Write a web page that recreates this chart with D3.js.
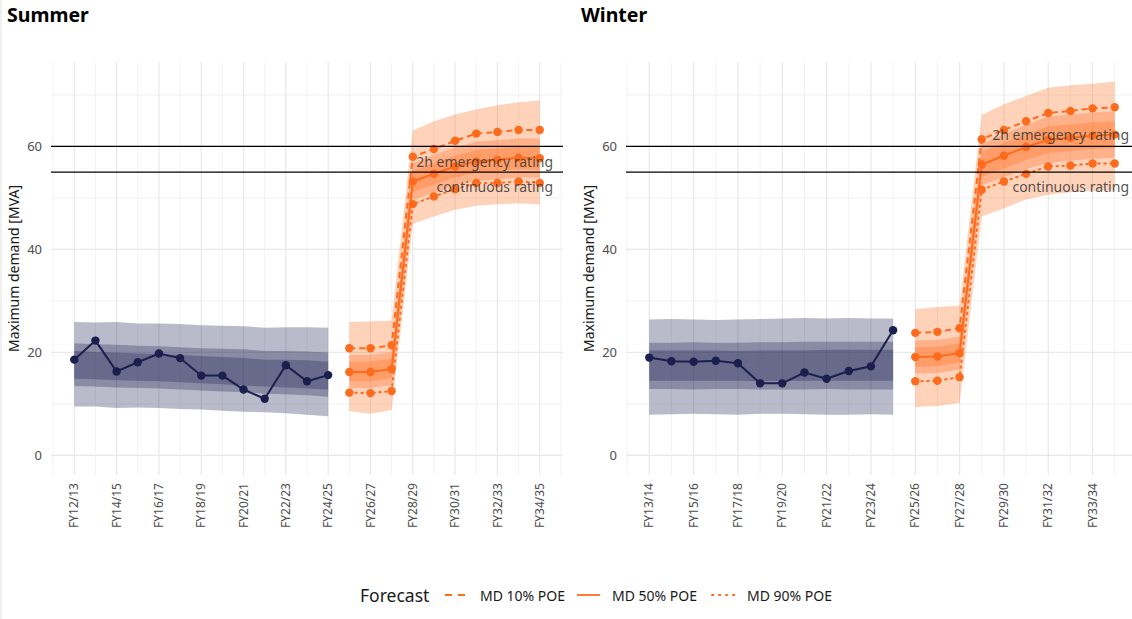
<!DOCTYPE html>
<html><head><meta charset="utf-8">
<script src="https://cdn.jsdelivr.net/npm/d3@7"></script>
<style>
body{margin:0;background:#fff}
text{font-family:"Noto Sans",Lato,sans-serif}
</style>
</head><body>
<svg id="chart" width="1132" height="619"></svg>
<script>
// ---------- DATA ----------
const summerYears = ["FY12/13","FY13/14","FY14/15","FY15/16","FY16/17","FY17/18","FY18/19","FY19/20","FY20/21","FY21/22","FY22/23","FY23/24","FY24/25","FY25/26","FY26/27","FY27/28","FY28/29","FY29/30","FY30/31","FY31/32","FY32/33","FY33/34","FY34/35"];
const winterYears = ["FY13/14","FY14/15","FY15/16","FY16/17","FY17/18","FY18/19","FY19/20","FY20/21","FY21/22","FY22/23","FY23/24","FY24/25","FY25/26","FY26/27","FY27/28","FY28/29","FY29/30","FY30/31","FY31/32","FY32/33","FY33/34","FY34/35"];
const summerTickLabels = ["FY12/13","FY14/15","FY16/17","FY18/19","FY20/21","FY22/23","FY24/25","FY26/27","FY28/29","FY30/31","FY32/33","FY34/35"];
const winterTickLabels = ["FY13/14","FY15/16","FY17/18","FY19/20","FY21/22","FY23/24","FY25/26","FY27/28","FY29/30","FY31/32","FY33/34"];
const yTicks = [0, 20, 40, 60];
const yMinor = [10, 30, 50, 70];

// Summer historical (FY12/13 .. FY24/25)
const summerActual   = [18.6,22.3,16.3,18.1,19.8,18.9,15.5,15.5,12.8,11.0,17.5,14.4,15.6];
const summerHistOutHi = [25.9,25.8,25.9,25.6,25.6,25.5,25.3,25.2,25.1,24.8,24.9,24.9,24.8];
const summerHistOutLo = [9.5,9.5,9.2,9.3,9.2,9.0,8.9,8.7,8.5,8.4,8.2,7.9,7.6];
const summerHistMidHi = [21.8,21.6,21.5,21.3,21.2,21.0,20.8,20.7,20.6,20.3,20.3,20.2,20.0];
const summerHistMidLo = [13.5,13.4,13.2,13.1,13.0,12.8,12.6,12.4,12.3,12.0,11.9,11.7,11.4];
const summerHistInHi  = [20.3,20.1,20.0,19.8,19.7,19.5,19.3,19.1,18.9,18.6,18.6,18.5,18.2];
const summerHistInLo  = [14.9,14.8,14.6,14.5,14.4,14.2,14.0,13.8,13.6,13.4,13.2,13.0,12.8];
// Summer forecast (FY25/26 .. FY34/35)
const summerP10 = [20.8,20.8,21.4,58.0,59.5,61.1,62.5,62.8,63.2,63.2];
const summerP50 = [16.2,16.2,16.8,53.2,54.7,56.1,57.1,57.4,57.8,57.7];
const summerP90 = [12.2,12.1,12.5,48.8,50.3,51.7,52.9,52.9,53.2,52.9];
const summerFcOutHi = [25.9,26.0,26.2,63.1,64.9,66.2,67.2,68.0,68.6,68.9];
const summerFcOutLo = [8.6,8.1,8.8,45.0,46.4,47.7,48.5,48.8,48.9,48.8];
const summerFcMidHi = [19.5,19.5,20.1,56.8,58.4,59.8,60.9,61.2,61.6,61.5];
const summerFcMidLo = [13.1,13.1,13.7,49.6,51.0,52.4,53.3,53.6,54.0,53.9];
const summerFcInHi  = [18.2,18.2,18.8,55.3,56.8,58.2,59.3,59.6,60.0,59.9];
const summerFcInLo  = [14.4,14.4,15.0,51.1,52.6,54.0,54.9,55.2,55.6,55.5];

// Winter historical (FY13/14 .. FY24/25)
const winterActual   = [19.0,18.3,18.2,18.4,17.9,14.0,14.0,16.1,14.9,16.4,17.3,24.3];
const winterHistOutHi = [26.4,26.5,26.4,26.3,26.4,26.5,26.6,26.7,26.6,26.7,26.6,26.6];
const winterHistOutLo = [7.9,8.0,8.1,8.0,7.9,8.1,8.1,8.0,7.9,7.9,8.0,7.9];
const winterHistMidHi = [21.9,21.9,22.0,21.9,21.9,22.0,22.0,22.1,22.1,22.1,22.1,22.1];
const winterHistMidLo = [12.9,12.9,12.8,12.9,12.9,12.8,12.8,12.8,12.9,12.8,12.8,12.8];
const winterHistInHi  = [20.4,20.4,20.4,20.4,20.3,20.4,20.4,20.4,20.5,20.5,20.5,20.5];
const winterHistInLo  = [14.5,14.5,14.5,14.5,14.5,14.4,14.5,14.5,14.5,14.5,14.5,14.5];
// Winter forecast (FY25/26 .. FY34/35)
const winterP10 = [23.8,24.0,24.7,61.4,63.2,64.9,66.5,66.9,67.4,67.6];
const winterP50 = [19.1,19.2,19.9,56.5,58.2,59.9,61.3,61.7,62.1,62.3];
const winterP90 = [14.4,14.5,15.2,51.6,53.2,54.7,56.1,56.3,56.7,56.7];
const winterFcOutHi = [28.4,28.8,29.1,66.1,68.2,69.8,71.4,71.9,72.2,72.6];
const winterFcOutLo = [9.4,9.6,10.2,46.4,48.0,49.7,50.6,51.1,51.4,51.5];
const winterFcMidHi = [22.3,22.4,23.1,60.5,62.4,64.2,65.8,66.2,66.6,66.8];
const winterFcMidLo = [15.9,16.0,16.7,52.5,54.0,55.6,56.8,57.2,57.6,57.8];
const winterFcInHi  = [21.0,21.1,21.8,58.9,60.7,62.4,63.9,64.3,64.7,64.9];
const winterFcInLo  = [17.2,17.3,18.0,54.1,55.7,57.4,58.7,59.1,59.5,59.7];

const ratingValues = [60, 55];
const ratingLabels = ["2h emergency rating", "continuous rating"];
const legendLabels = ["MD 10% POE", "MD 50% POE", "MD 90% POE"];

// ---------- STYLE ----------
const NAVY = "#1b1f4e", ORANGE = "#ff6b1c";
const BAND_OP = 0.3;
const svg = d3.select("#chart");

svg.append("rect").attr("x",0).attr("y",0).attr("width",2).attr("height",619).attr("fill","#f0f0f0");

const yScale = d3.scaleLinear().domain([-3.8, 76.4]).range([475, 62]);

function drawPanel(o) {
  const g = svg.append("g");
  const x = d3.scaleLinear().domain(o.xDomain).range([o.left, o.left + 512]);
  const right = Math.min(o.left + 512, 1132);
  const clipId = "clip" + o.id;
  svg.append("clipPath").attr("id", clipId).append("rect")
    .attr("x", o.left).attr("y", 62).attr("width", 512).attr("height", 413);

  const grid = g.append("g");
  yMinor.forEach(v => grid.append("line").attr("x1", o.left).attr("x2", right)
    .attr("y1", yScale(v)).attr("y2", yScale(v)).attr("stroke", "#efefef").attr("stroke-width", 0.8));
  yTicks.forEach(v => grid.append("line").attr("x1", o.left).attr("x2", right)
    .attr("y1", yScale(v)).attr("y2", yScale(v)).attr("stroke", "#e8e8e8").attr("stroke-width", 1.2));
  d3.range(Math.ceil(o.xDomain[0]), Math.floor(o.xDomain[1]) + 1).forEach(i => {
    const major = i >= 0 && i % 2 === 0;
    grid.append("line").attr("x1", x(i)).attr("x2", x(i)).attr("y1", 62).attr("y2", 475)
      .attr("stroke", major ? "#e8e8e8" : "#efefef").attr("stroke-width", major ? 1.2 : 0.8);
  });

  yTicks.forEach(v => g.append("text").attr("x", o.left - 9).attr("y", yScale(v)).attr("dy", "0.35em")
    .attr("text-anchor", "end").attr("font-size", 13).attr("fill", "#4d4d4d").text(v));
  g.append("text").attr("transform", `translate(${o.left - 37},${(62 + 475) / 2}) rotate(-90)`)
    .attr("text-anchor", "middle").attr("dy", "0.35em").attr("font-size", 14).attr("fill", "#1a1a1a").text("Maximum demand [MVA]");
  o.ticks.forEach(t => {
    const i = o.years.indexOf(t);
    g.append("text").attr("transform", `translate(${x(i)},${483}) rotate(-90)`)
      .attr("dy", "0.35em").attr("text-anchor", "end").attr("font-size", 12).attr("fill", "#4d4d4d").text(t);
  });
  g.append("text").attr("x", o.titleX).attr("y", 22).attr("font-family", "Liberation Sans, Arial, sans-serif")
    .attr("font-weight", "bold").attr("font-size", 19.5).attr("fill", "#000").text(o.title);

  const plot = g.append("g").attr("clip-path", `url(#${clipId})`);
  const band = (lo, hi, off, col) => {
    const data = lo.map((v, i) => ({ i: i + off, lo: v, hi: hi[i] }));
    plot.append("path").datum(data)
      .attr("d", d3.area().x(d => x(d.i)).y0(d => yScale(d.lo)).y1(d => yScale(d.hi)))
      .attr("fill", col).attr("fill-opacity", BAND_OP);
  };
  const hOff = 0, fOff = o.hist.actual.length;
  band(o.hist.outLo, o.hist.outHi, hOff, NAVY);
  band(o.hist.midLo, o.hist.midHi, hOff, NAVY);
  band(o.hist.inLo, o.hist.inHi, hOff, NAVY);
  band(o.fc.outLo, o.fc.outHi, fOff, ORANGE);
  band(o.fc.midLo, o.fc.midHi, fOff, ORANGE);
  band(o.fc.inLo, o.fc.inHi, fOff, ORANGE);

  const series = (vals, off, col, dash) => {
    const data = vals.map((v, i) => ({ i: i + off, v }));
    plot.append("path").datum(data).attr("d", d3.line().x(d => x(d.i)).y(d => yScale(d.v)))
      .attr("fill", "none").attr("stroke", col).attr("stroke-width", 2)
      .attr("stroke-dasharray", dash).attr("stroke-linecap", dash === "1.5,4.5" ? "round" : "butt");
    plot.selectAll(null).data(data).enter().append("circle")
      .attr("cx", d => x(d.i)).attr("cy", d => yScale(d.v)).attr("r", 4.2).attr("fill", col);
  };
  series(o.hist.actual, hOff, NAVY, null);
  series(o.fc.p10, fOff, ORANGE, "6,4");
  series(o.fc.p50, fOff, ORANGE, null);
  series(o.fc.p90, fOff, ORANGE, "1.5,4.5");

  ratingValues.forEach(v => g.append("line").attr("x1", o.left).attr("x2", right)
    .attr("y1", yScale(v)).attr("y2", yScale(v)).attr("stroke", "#000").attr("stroke-width", 1.3));
  ratingLabels.forEach((t, k) => g.append("text").attr("x", o.labelX).attr("y", o.labelY[k])
    .attr("dy", "0.35em").attr("text-anchor", "end").attr("font-size", 14)
    .attr("fill", "#333").attr("fill-opacity", 0.85).text(t));
}

drawPanel({
  id: "s", title: "Summer", titleX: 7, left: 51, xDomain: [-1.1, 23.1],
  years: summerYears, ticks: summerTickLabels,
  hist: { actual: summerActual, outLo: summerHistOutLo, outHi: summerHistOutHi, midLo: summerHistMidLo, midHi: summerHistMidHi, inLo: summerHistInLo, inHi: summerHistInHi },
  fc: { p10: summerP10, p50: summerP50, p90: summerP90, outLo: summerFcOutLo, outHi: summerFcOutHi, midLo: summerFcMidLo, midHi: summerFcMidHi, inLo: summerFcInLo, inHi: summerFcInHi },
  labelX: 553, labelY: [162, 187]
});
drawPanel({
  id: "w", title: "Winter", titleX: 581, left: 626, xDomain: [-1.05, 22.05],
  years: winterYears, ticks: winterTickLabels,
  hist: { actual: winterActual, outLo: winterHistOutLo, outHi: winterHistOutHi, midLo: winterHistMidLo, midHi: winterHistMidHi, inLo: winterHistInLo, inHi: winterHistInHi },
  fc: { p10: winterP10, p50: winterP50, p90: winterP90, outLo: winterFcOutLo, outHi: winterFcOutHi, midLo: winterFcMidLo, midHi: winterFcMidHi, inLo: winterFcInLo, inHi: winterFcInHi },
  labelX: 1129, labelY: [135, 187]
});

// ---------- LEGEND ----------
const lg = svg.append("g");
lg.append("text").attr("x", 360).attr("y", 596).attr("dy", "0.35em").attr("font-size", 17.5).attr("fill", "#1a1a1a").text("Forecast");
const legX = [445, 577, 712];
const legDash = ["7,6", null, "1.5,5.5"];
legendLabels.forEach((t, k) => {
  lg.append("line").attr("x1", legX[k]).attr("x2", legX[k] + 23).attr("y1", 595).attr("y2", 595)
    .attr("stroke", ORANGE).attr("stroke-width", 1.8).attr("stroke-dasharray", legDash[k])
    .attr("stroke-linecap", k === 2 ? "round" : "butt");
  lg.append("text").attr("x", legX[k] + 35).attr("y", 596).attr("dy", "0.35em").attr("font-size", 14)
    .attr("fill", "#1a1a1a").text(t);
});
</script>
</body></html>
